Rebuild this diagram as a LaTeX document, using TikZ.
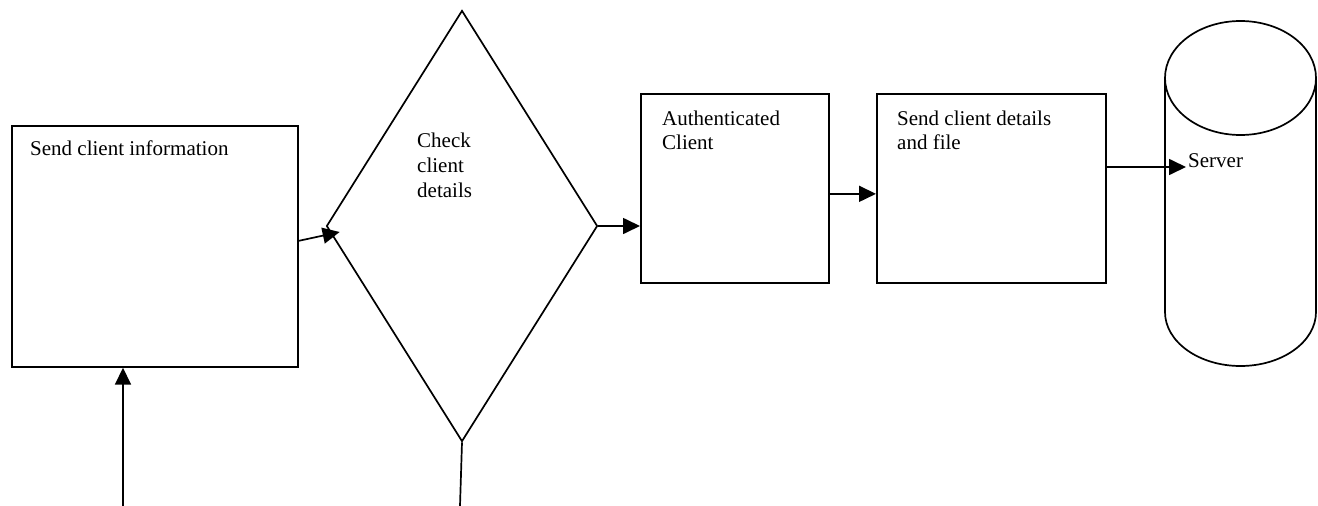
\documentclass[tikz,border=0pt]{standalone}
\usepackage{fontspec}
\setmainfont{Liberation Serif}
\usetikzlibrary{shapes.geometric,arrows.meta,positioning}

\tikzset{
  box/.style={draw, line width=1.7pt, anchor=north west, inner sep=0pt},
  lbl/.style={font=\fontsize{21}{24}\selectfont, align=left, inner sep=0pt, anchor=north west},
  flow/.style={line width=1.7pt, -{Triangle[length=17pt,width=16pt]}},
}

\begin{document}
\begin{tikzpicture}[x=1pt, y=-1pt]
        \useasboundingbox (0,0) rectangle (1318,506);

        % Boxes
        \node[box, minimum width=286pt, minimum height=241pt] (info) at (11,125) {};
        \node[draw, line width=1.7pt, diamond, inner sep=0pt, minimum width=271pt, minimum height=431pt] (check) at (462,226) {};
        \node[box, minimum width=188pt, minimum height=189pt] (auth) at (640,93) {};
        \node[box, minimum width=229pt, minimum height=189pt] (send) at (876,93) {};

        % Texts
        \node[lbl] (infotxt) at (30,140.7) {Send client information};
        \node[lbl, font=\fontsize{21}{25}\selectfont] (checktxt) at (417,132.7) {Check\\client\\details};
        \node[lbl] (authtxt) at (662,110.7) {Authenticated\\Client};
        \node[lbl] (sendtxt) at (897,110.7) {Send client details\\and file};
        \node[lbl, anchor=base west] (srv) at (1188,167) {Server};

        % Server cylinder
        \draw[line width=1.7pt] (1165,78) -- (1165,312) arc[start angle=180, end angle=0, x radius=75.5, y radius=54] -- (1316,78);
        \draw[line width=1.7pt] (1240.5,78) ellipse [x radius=75.5, y radius=57];

        % Loose ends
        \coordinate (in1) at (123,506);
        \coordinate (out1) at (460,506);

        % Arrows
        \draw[flow] ([yshift=5.5pt]info.east) -- ([shift={(14pt,-6pt)}]check.west);
        \draw[flow] (check.east) -- (auth.west |- check.east);
        \draw[flow] ([yshift=-5.5pt]auth.east) -- ([yshift=-5.5pt]send.west);
        \draw[flow] (send.east |- srv.base) -- ([xshift=-2pt]srv.base west);
        \draw[flow] (in1) -- (in1 |- info.south);
        \draw[line width=1.7pt] (check.south) -- (out1);
\end{tikzpicture}
\end{document}
